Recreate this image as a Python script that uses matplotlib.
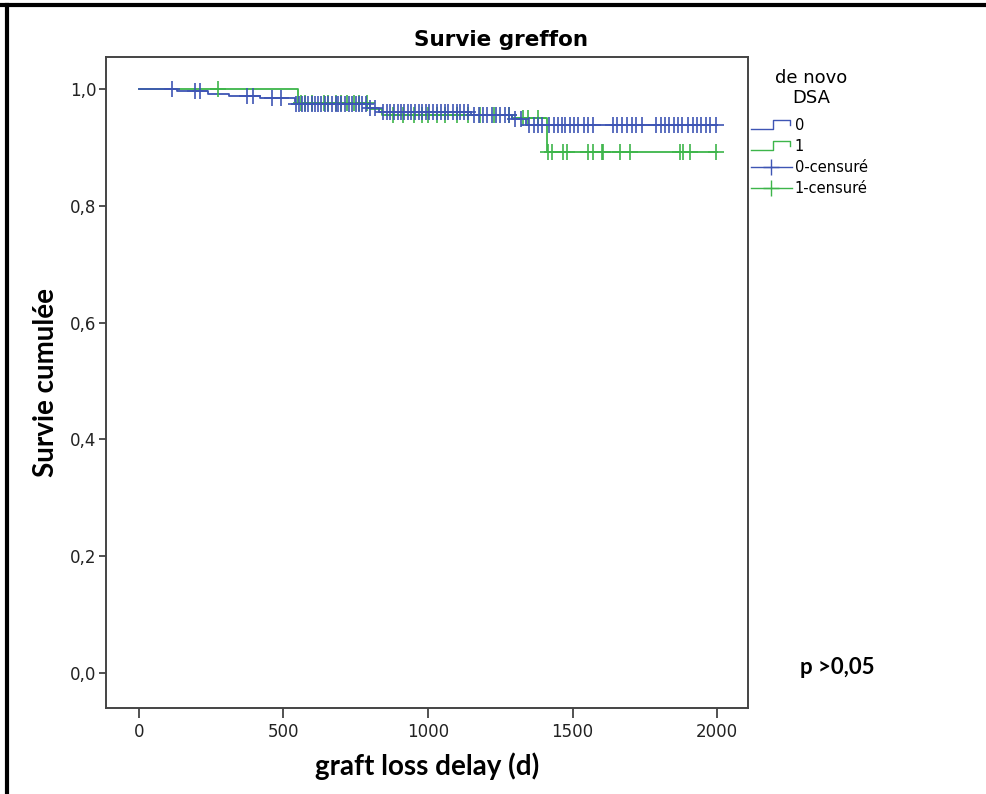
import numpy as np
import matplotlib
matplotlib.use("Agg")
import matplotlib.pyplot as plt
from matplotlib.lines import Line2D
from matplotlib.legend_handler import HandlerBase

# Kaplan-Meier steps, groupe "de novo DSA" = 0 (bleu)
t0 = [0, 130, 240, 310, 420, 540, 790, 830, 1150, 1290, 1340, 2000]
s0 = [1.0, 0.996, 0.992, 0.988, 0.984, 0.975, 0.968, 0.960, 0.955, 0.948, 0.938, 0.938]

# groupe 1 (vert)
t1 = [0, 550, 800, 840, 1290, 1410, 2000]
s1 = [1.0, 0.977, 0.966, 0.955, 0.950, 0.893, 0.893]

# temps censurés
c0 = [115, 195, 210, 375, 395, 460, 490, 545, 555, 565, 575, 585, 598, 610, 620,
      630, 645, 655, 668, 680, 690, 700, 712, 725, 738, 750, 760, 772, 785, 800,
      815, 845, 858, 870, 882, 895, 905, 918, 930, 942, 955, 968, 980, 992, 1005,
      1018, 1030, 1045, 1058, 1070, 1085, 1100, 1112, 1125, 1140, 1160, 1175,
      1190, 1205, 1220, 1235, 1250, 1265, 1280, 1300, 1320, 1350, 1365, 1380,
      1395, 1420, 1435, 1450, 1462, 1475, 1490, 1505, 1520, 1540, 1555, 1570,
      1640, 1655, 1670, 1690, 1705, 1720, 1740, 1790, 1805, 1820, 1835, 1850,
      1865, 1880, 1900, 1915, 1930, 1945, 1960, 1975, 1995]
c1 = [273, 560, 575, 600, 640, 655, 680, 700, 720, 745, 760, 790, 880, 915, 950,
      980, 1000, 1030, 1060, 1100, 1140, 1180, 1230, 1280, 1330, 1345, 1380,
      1415, 1429, 1467, 1481, 1554, 1571, 1602, 1606, 1664, 1699, 1872, 1882,
      1907, 1995]

blue = "#3e55b4"
green = "#3db54a"


def surv_at(t, s, c):
    t = np.array(t)
    s = np.array(s)
    idx = np.searchsorted(t, np.array(c), side="right") - 1
    return s[idx]


class StepHandler(HandlerBase):
    def create_artists(self, legend, orig_handle, xdescent, ydescent,
                       width, height, fontsize, trans):
        x = np.array([0, 0.55, 0.55, 0.95, 0.95]) * width - xdescent
        y = np.array([0.1, 0.1, 0.95, 0.95, 0.5]) * height - ydescent
        ln = Line2D(x, y, color=orig_handle.get_color(), lw=1)
        ln.set_transform(trans)
        return [ln]


fig = plt.figure(figsize=(9.86, 7.94), dpi=100)
ax = fig.add_axes([106 / 986, 1 - 708 / 794, 642 / 986, 651 / 794])

st1, = ax.step(t1, s1, where="post", color=green, lw=1.3)
st0, = ax.step(t0, s0, where="post", color=blue, lw=1.3)
ax.plot(c1, surv_at(t1, s1, c1), ls="none", marker="+", ms=11, mew=1.2,
        color=green)
ax.plot(c0, surv_at(t0, s0, c0), ls="none", marker="+", ms=11, mew=1.2,
        color=blue)

ax.set_xlim(-114, 2107)
ax.set_ylim(-0.06, 1.055)
ax.set_xticks([0, 500, 1000, 1500, 2000])
ax.set_yticks([0, 0.2, 0.4, 0.6, 0.8, 1.0])
ax.set_yticklabels(["0,0", "0,2", "0,4", "0,6", "0,8", "1,0"])
ax.tick_params(direction="out", length=5, width=1.2, color="#333333",
               labelsize=12, labelcolor="#222222", pad=2)
ax.tick_params(axis="x", length=7, pad=4)
for sp in ax.spines.values():
    sp.set_color("#444444")
    sp.set_linewidth(1.4)

fig.text(501 / 986, 1 - 40 / 794, "Survie greffon", fontsize=15.5,
         fontweight="bold", ha="center", va="center")
ax.set_xlabel("graft loss delay (d)", fontsize=20, fontweight="bold",
              family="Lato", labelpad=8)
ax.set_ylabel("Survie cumulée", fontsize=20, fontweight="bold",
              family="Lato", labelpad=8)

fig.text(800 / 986, 1 - 668 / 794, "p >0,05", fontsize=16, fontweight="bold",
         family="Lato", va="center")

# titre de la légende
fig.text(811 / 986, 1 - 88 / 794, "de novo\nDSA", fontsize=13, ha="center",
         va="center", multialignment="center", linespacing=1.2)

cens0 = Line2D([], [], color=blue, marker="+", ms=11, mew=1, lw=1)
cens1 = Line2D([], [], color=green, marker="+", ms=11, mew=1, lw=1)
leg = ax.legend([st0, st1, cens0, cens1], ["0", "1", "0-censuré", "1-censuré"],
                handler_map={st0: StepHandler(), st1: StepHandler()},
                fontsize=10.5,
                loc="upper left", bbox_to_anchor=(751 / 986, 1 - 118 / 794),
                bbox_transform=fig.transFigure, frameon=False, borderpad=0,
                borderaxespad=0, handlelength=2.8, handletextpad=0.2,
                labelspacing=0.42)

# cadre noir (haut et gauche)
fig.add_artist(Line2D([0, 1], [1 - 5 / 794] * 2, transform=fig.transFigure,
                      color="black", lw=3))
fig.add_artist(Line2D([7 / 986] * 2, [0, 1 - 5 / 794], transform=fig.transFigure,
                      color="black", lw=3))

fig.savefig("out.png", dpi=100)
